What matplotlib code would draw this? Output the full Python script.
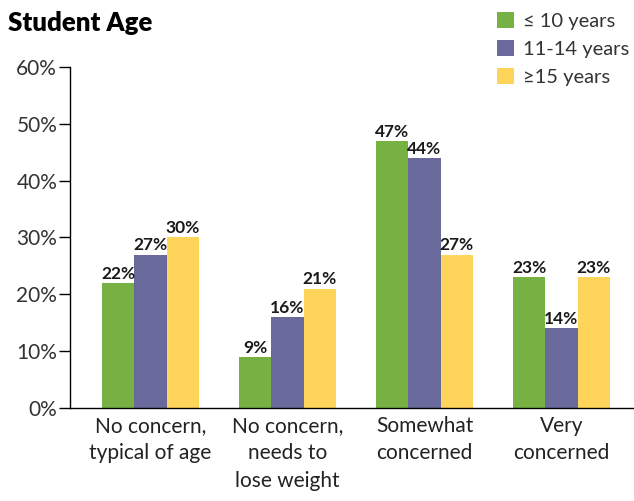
import matplotlib.pyplot as plt
import numpy as np

categories = ["No concern,\ntypical of age", "No concern,\nneeds to\nlose weight",
              "Somewhat\nconcerned", "Very\nconcerned"]
series_names = ["\u2264 10 years", "11-14 years", "\u226515 years"]
under_10 = [22, 9, 47, 23]
age_11_14 = [27, 16, 44, 14]
over_15 = [30, 21, 27, 23]
colors = ["#77b043", "#6a699b", "#ffd45a"]

plt.rcParams["font.family"] = ["Lato", "DejaVu Sans"]

fig = plt.figure(figsize=(6.34, 5.01), dpi=100)
ax = fig.add_axes([0.110, 0.186, 0.890, 0.680])

x = np.arange(len(categories))
w = 0.235
series = [under_10, age_11_14, over_15]
bars = []
for i, vals in enumerate(series):
    b = ax.bar(x + (i - 1) * w, vals, w, color=colors[i], label=series_names[i])
    bars.append(b)
    for xi, v in zip(x + (i - 1) * w, vals):
        ax.text(xi, v + 0.2, f"{v}%", ha="center", va="bottom",
                fontsize=12.5, fontweight="bold", color="#1a1a1a")

ax.set_xlim(-0.59, 3.53)
ax.set_ylim(0, 60)
ax.set_yticks(range(0, 61, 10))
ax.set_yticklabels([f"{t}%" for t in range(0, 61, 10)])
ax.set_xticks(x)
ax.set_xticklabels(categories, fontsize=15, color="#222222", linespacing=1.45)
ax.tick_params(axis="x", length=0, pad=6)
ax.tick_params(axis="y", length=8, width=1, labelsize=15, labelcolor="#333333", pad=1)
for s in ["top", "right"]:
    ax.spines[s].set_visible(False)
ax.spines["left"].set_linewidth(1)
ax.spines["bottom"].set_linewidth(1)

fig.text(0.013, 0.955, "Student Age", fontsize=18.5, fontweight="heavy", ha="left", va="center")

leg = fig.legend(handles=bars, labels=series_names, loc="upper left",
                 bbox_to_anchor=(0.765, 1.0), frameon=False,
                 prop={"size": 14.5},
                 handlelength=0.85, handleheight=0.85, handletextpad=0.45,
                 labelspacing=0.5, borderaxespad=0.2, labelcolor="#333333")

fig.savefig("out.png", dpi=100)
